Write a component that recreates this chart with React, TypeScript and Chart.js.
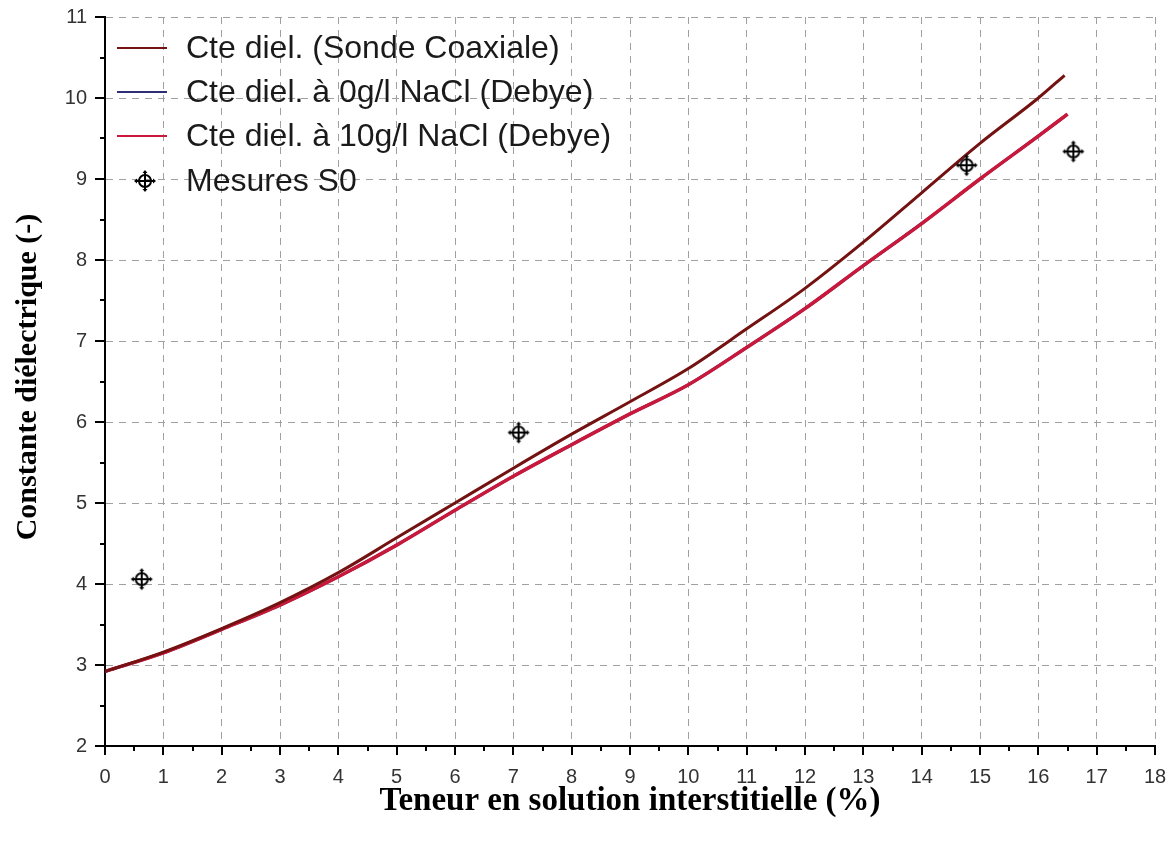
import React, { useEffect, useRef } from "react";
import { Chart, registerables } from "chart.js";

Chart.register(...registerables);

// ---- Data ----
const coaxX = [0, 1, 2, 3, 4, 5, 6, 7, 8, 9, 10, 11, 12, 13, 14, 15, 16, 16.45];
const coaxY = [2.92, 3.16, 3.45, 3.77, 4.14, 4.57, 5.0, 5.43, 5.85, 6.25, 6.66, 7.15, 7.65, 8.22, 8.83, 9.44, 10.0, 10.28];

const debyeX = [0, 1, 2, 3, 4, 5, 6, 7, 8, 9, 10, 11, 12, 13, 14, 15, 16, 16.5];
const debye0Y = [2.92, 3.15, 3.44, 3.74, 4.09, 4.48, 4.91, 5.33, 5.72, 6.1, 6.46, 6.92, 7.4, 7.93, 8.45, 9.0, 9.53, 9.8];
const debye10Y = [2.92, 3.15, 3.44, 3.74, 4.09, 4.48, 4.91, 5.33, 5.72, 6.1, 6.46, 6.92, 7.4, 7.93, 8.45, 9.0, 9.53, 9.8];

const mesuresX = [0.63, 7.09, 14.77, 16.6];
const mesuresY = [4.06, 5.87, 9.17, 9.34];

const seriesLabels = [
  "Cte diel. (Sonde Coaxiale)",
  "Cte diel. à 0g/l NaCl (Debye)",
  "Cte diel. à 10g/l NaCl (Debye)",
  "Mesures S0",
];
const seriesColors = ["#741212", "#2e2e78", "#c8193c", "#000000"];

const xTitle = "Teneur en solution interstitielle (%)";
const yTitle = "Constante diélectrique (-)";
const xMin = 0;
const xMax = 18;
const yMin = 2;
const yMax = 11;

function makeMarker(): HTMLCanvasElement {
  const c = document.createElement("canvas");
  c.width = 24;
  c.height = 24;
  const g = c.getContext("2d")!;
  const cx = 12;
  const cy = 12;
  g.strokeStyle = "#000";
  g.fillStyle = "#000";
  g.lineWidth = 2;
  g.beginPath();
  g.arc(cx, cy, 6, 0, Math.PI * 2);
  g.stroke();
  g.beginPath();
  g.moveTo(cx - 9, cy);
  g.lineTo(cx + 9, cy);
  g.moveTo(cx, cy - 9);
  g.lineTo(cx, cy + 9);
  g.stroke();
  const tri = (x: number, y: number, dx: number, dy: number) => {
    g.beginPath();
    g.moveTo(x + dx * 3, y + dy * 3);
    g.lineTo(x - dy * 2.5, y - dx * 2.5);
    g.lineTo(x + dy * 2.5, y + dx * 2.5);
    g.closePath();
    g.fill();
  };
  tri(cx + 8, cy, 1, 0);
  tri(cx - 8, cy, -1, 0);
  tri(cx, cy + 8, 0, 1);
  tri(cx, cy - 8, 0, -1);
  return c;
}

export default function App() {
  const ref = useRef<HTMLCanvasElement | null>(null);

  useEffect(() => {
    document.body.style.margin = "0";
    const marker = makeMarker();

    const decor = {
      id: "decor",
      afterDraw(chart: any) {
        const ctx = chart.ctx as CanvasRenderingContext2D;
        const xs = chart.scales.x;
        const ys = chart.scales.y;
        const ca = chart.chartArea;
        ctx.save();
        ctx.strokeStyle = "#000";
        ctx.lineWidth = 2;
        for (let v = xMin; v <= xMax + 1e-9; v += 0.5) {
          const px = Math.round(xs.getPixelForValue(v));
          const major = Math.abs(v - Math.round(v)) < 1e-6;
          ctx.beginPath();
          ctx.moveTo(px, ca.bottom);
          ctx.lineTo(px, ca.bottom + (major ? 9 : 5));
          ctx.stroke();
        }
        for (let v = yMin; v <= yMax + 1e-9; v += 0.5) {
          const py = Math.round(ys.getPixelForValue(v));
          const major = Math.abs(v - Math.round(v)) < 1e-6;
          ctx.beginPath();
          ctx.moveTo(ca.left, py);
          ctx.lineTo(ca.left - (major ? 10 : 5), py);
          ctx.stroke();
        }

        ctx.fillStyle = "#000";
        ctx.font = "bold 33px 'Liberation Serif', 'Times New Roman', serif";
        ctx.textAlign = "center";
        ctx.textBaseline = "middle";
        ctx.fillText(xTitle, (ca.left + ca.right) / 2, 801);
        ctx.save();
        ctx.translate(28, 377);
        ctx.rotate(-Math.PI / 2);
        ctx.font = "bold 30px 'Liberation Serif', 'Times New Roman', serif";
        ctx.fillText(yTitle, 0, 0);
        ctx.restore();

        const rows = [48, 92, 136, 181];
        ctx.font = "32px 'Liberation Sans', Arial, sans-serif";
        ctx.textAlign = "left";
        ctx.textBaseline = "middle";
        for (let i = 0; i < seriesLabels.length; i++) {
          const y = rows[i];
          if (i < 3) {
            ctx.strokeStyle = seriesColors[i];
            ctx.lineWidth = 2;
            ctx.beginPath();
            ctx.moveTo(117, y);
            ctx.lineTo(167, y);
            ctx.stroke();
          } else {
            ctx.drawImage(marker, 145 - 12, y - 12);
          }
          ctx.fillStyle = "#1a1a1a";
          ctx.fillText(seriesLabels[i], 186, y + 1);
        }
        ctx.restore();
      },
    };

    const pts = (xs: number[], ys: number[]) => xs.map((x, i) => ({ x, y: ys[i] }));

    const chart = new Chart(ref.current!, {
      type: "line",
      data: {
        datasets: [
          {
            label: seriesLabels[0],
            data: pts(coaxX, coaxY),
            borderColor: seriesColors[0],
            borderWidth: 3,
            pointRadius: 0,
            cubicInterpolationMode: "monotone",
            order: 1,
          },
          {
            label: seriesLabels[1],
            data: pts(debyeX, debye0Y),
            borderColor: seriesColors[1],
            borderWidth: 3,
            pointRadius: 0,
            cubicInterpolationMode: "monotone",
            order: 3,
          },
          {
            label: seriesLabels[2],
            data: pts(debyeX, debye10Y),
            borderColor: seriesColors[2],
            borderWidth: 3.5,
            pointRadius: 0,
            cubicInterpolationMode: "monotone",
            order: 2,
          },
          {
            label: seriesLabels[3],
            data: pts(mesuresX, mesuresY),
            showLine: false,
            pointStyle: marker as any,
            pointRadius: 10,
            borderColor: "#000",
            backgroundColor: "#000",
            order: 0,
          },
        ] as any,
      },
      options: {
        animation: false,
        responsive: true,
        maintainAspectRatio: false,
        layout: { padding: { top: 17, right: 13, left: 0, bottom: 0 } },
        plugins: {
          legend: { display: false },
          tooltip: { enabled: false },
        },
        scales: {
          x: {
            type: "linear",
            min: xMin,
            max: xMax,
            afterFit: (s: any) => {
              s.height = 97;
              s.paddingLeft = 0;
              s.paddingRight = 0;
            },
            ticks: {
              stepSize: 1,
              color: "#333",
              font: { family: "'Liberation Sans', Arial, sans-serif", size: 20 },
              padding: 19,
              maxRotation: 0,
              autoSkip: false,
            },
            grid: { color: "#a0a0a0", lineWidth: 1, drawTicks: false },
            border: { display: true, color: "#000", width: 2, dash: [7, 6] },
          },
          y: {
            type: "linear",
            min: yMin,
            max: yMax,
            afterFit: (s: any) => {
              s.width = 105;
              s.paddingTop = 0;
              s.paddingBottom = 0;
            },
            ticks: {
              stepSize: 1,
              color: "#333",
              font: { family: "'Liberation Sans', Arial, sans-serif", size: 20 },
              padding: 18,
              autoSkip: false,
            },
            grid: { color: "#a0a0a0", lineWidth: 1, drawTicks: false },
            border: { display: true, color: "#000", width: 2, dash: [7, 6] },
          },
        },
      } as any,
      plugins: [decor],
    });

    return () => chart.destroy();
  }, []);

  return (
    <div style={{ width: 1168, height: 843, position: "relative", background: "#fff" }}>
      <canvas ref={ref} />
    </div>
  );
}
